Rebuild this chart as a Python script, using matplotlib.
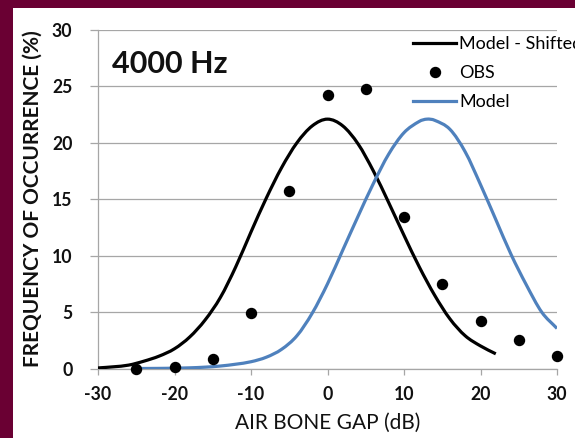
import matplotlib
matplotlib.use("Agg")
import matplotlib.pyplot as plt
from matplotlib.path import Path
from matplotlib.patches import PathPatch, Rectangle
from matplotlib.lines import Line2D
import numpy as np

# Observed air-bone gap distribution at 4000 Hz
obs_gap = [-25, -20, -15, -10, -5, 0, 5, 10, 15, 20, 25, 30]
obs_freq = [0.0, 0.1, 0.8, 4.9, 15.7, 24.2, 24.8, 13.4, 7.5, 4.2, 2.5, 1.1]

# Model curve shifted to the observed centre
shifted_gap = [-30, -28, -26, -24, -22, -20, -18, -16, -14, -12, -10, -8, -6,
               -4, -2, 0, 2, 4, 6, 8, 10, 12, 14, 16, 18, 20, 22]
shifted_freq = [0.05, 0.15, 0.3, 0.65, 1.1, 1.75, 2.8, 4.3, 6.3, 9.0, 12.1, 15.1,
                17.8, 20.0, 21.5, 22.1, 21.5, 19.9, 17.5, 14.7, 11.8, 9.0, 6.5,
                4.4, 2.9, 2.0, 1.3]

# Unshifted model curve
model_gap = [-25, -22, -20, -18, -16, -14, -12, -10, -8, -6, -4, -2, 0, 2, 4,
             6, 8, 10, 12, 13, 14, 16, 18, 20, 22, 24, 26, 28, 30]
model_freq = [0.0, 0.01, 0.03, 0.06, 0.12, 0.22, 0.38, 0.6, 1.0, 1.7, 2.9, 4.9,
              7.5, 10.5, 13.5, 16.4, 19.0, 20.9, 21.9, 22.1, 22.0, 21.2, 19.2,
              16.3, 13.2, 10.1, 7.4, 5.0, 3.55]

x_ticks = [-30, -20, -10, 0, 10, 20, 30]
y_ticks = [0, 5, 10, 15, 20, 25, 30]
series_labels = ["Model - Shifted", "OBS", "Model"]
panel_title = "4000 Hz"
x_title = "AIR BONE GAP (dB)"
y_title = "FREQUENCY OF OCCURRENCE (%)"

MAROON = "#6a0033"
GRID = "#a6a6a6"
BLUE = "#4f81bd"

plt.rcParams["font.family"] = ["Lato", "DejaVu Sans"]
plt.rcParams["axes.unicode_minus"] = False

W, H = 575, 438
fig = plt.figure(figsize=(W / 100, H / 100), dpi=100, facecolor=MAROON)

# white chart panel inside the maroon frame
fig.patches.append(Rectangle((13 / W, 0), 1, 1 - 8 / H, transform=fig.transFigure,
                             facecolor="white", edgecolor="none", zorder=-1))

ax = fig.add_axes([98 / W, 1 - 368.5 / H, (557 - 98) / W, (368.5 - 30) / H])
ax.set_facecolor("none")


def smooth_path(xs, ys):
    """Smoothed line through the points (cubic Hermite segments as Beziers)."""
    x = np.asarray(xs, float)
    y = np.asarray(ys, float)
    n = len(x)
    slope = np.empty(n)
    slope[0] = (y[1] - y[0]) / (x[1] - x[0])
    slope[-1] = (y[-1] - y[-2]) / (x[-1] - x[-2])
    slope[1:-1] = (y[2:] - y[:-2]) / (x[2:] - x[:-2])
    verts = [(x[0], y[0])]
    codes = [Path.MOVETO]
    for i in range(n - 1):
        h = x[i + 1] - x[i]
        verts += [(x[i] + h / 3, y[i] + slope[i] * h / 3),
                  (x[i + 1] - h / 3, y[i + 1] - slope[i + 1] * h / 3),
                  (x[i + 1], y[i + 1])]
        codes += [Path.CURVE4] * 3
    return Path(verts, codes)


ax.add_patch(PathPatch(smooth_path(shifted_gap, shifted_freq), facecolor="none",
                       edgecolor="black", lw=2.3, capstyle="butt", zorder=3))
ax.plot(obs_gap, obs_freq, "o", color="black", ms=7.2, clip_on=False, zorder=4)
ax.add_patch(PathPatch(smooth_path(model_gap, model_freq), facecolor="none",
                       edgecolor=BLUE, lw=2.3, capstyle="butt", zorder=3))

ax.set_xlim(-30, 30)
ax.set_ylim(0, 30)
ax.set_xticks(x_ticks)
ax.set_yticks(y_ticks)
ax.yaxis.grid(True, color=GRID, lw=0.9)
ax.set_axisbelow(True)
for side in ("top", "right"):
    ax.spines[side].set_visible(False)
for side in ("left", "bottom"):
    ax.spines[side].set_color(GRID)
    ax.spines[side].set_linewidth(0.9)

ax.tick_params(axis="x", direction="out", length=4.5, width=0.9, color=GRID,
               pad=8, labelsize=12.7, labelcolor="#111111")
ax.tick_params(axis="y", direction="out", length=5.5, width=0.9, color=GRID,
               pad=13, labelsize=12.7, labelcolor="#111111")
for lbl in ax.get_xticklabels() + ax.get_yticklabels():
    lbl.set_fontweight("bold")

fig.text(112 / W, 1 - 73 / H, panel_title, fontsize=22, fontweight="bold",
         ha="left", va="baseline", color="#111111")
fig.text(328 / W, 1 - 429 / H, x_title, fontsize=15, ha="center", va="baseline",
         color="#111111")
fig.text(33 / W, 1 - 198.5 / H, y_title, fontsize=15, fontweight="bold",
         rotation=90, ha="center", va="center", color="#111111")

handles = [Line2D([], [], color="black", lw=2.3),
           Line2D([], [], ls="none", marker="o", color="black", ms=7.2),
           Line2D([], [], color=BLUE, lw=2.3)]
fig.legend(handles, series_labels, loc="upper left",
           bbox_to_anchor=(413 / W, 1 - 36 / H), frameon=False, borderpad=0,
           borderaxespad=0, handlelength=2.4, handletextpad=0.15,
           labelspacing=0.72, fontsize=13)

fig.savefig("out.png", dpi=100, facecolor=MAROON)
